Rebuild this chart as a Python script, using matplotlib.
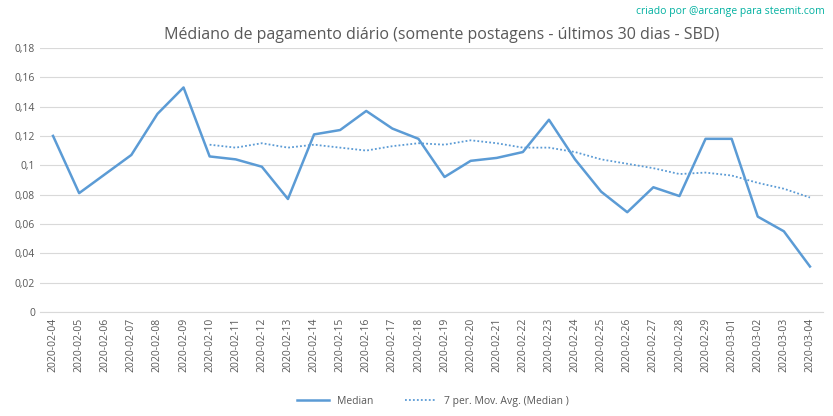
import matplotlib

matplotlib.use("Agg")
import matplotlib.pyplot as plt

dates = [
    "2020-02-04", "2020-02-05", "2020-02-06", "2020-02-07", "2020-02-08",
    "2020-02-09", "2020-02-10", "2020-02-11", "2020-02-12", "2020-02-13",
    "2020-02-14", "2020-02-15", "2020-02-16", "2020-02-17", "2020-02-18",
    "2020-02-19", "2020-02-20", "2020-02-21", "2020-02-22", "2020-02-23",
    "2020-02-24", "2020-02-25", "2020-02-26", "2020-02-27", "2020-02-28",
    "2020-02-29", "2020-03-01", "2020-03-02", "2020-03-03", "2020-03-04",
]
median = [
    0.120, 0.081, 0.094, 0.107, 0.135, 0.153, 0.106, 0.104, 0.099, 0.077,
    0.121, 0.124, 0.137, 0.125, 0.118, 0.092, 0.103, 0.105, 0.109, 0.131,
    0.104, 0.082, 0.068, 0.085, 0.079, 0.118, 0.118, 0.065, 0.055, 0.031,
]
# 7 per. moving average, starts at 2020-02-10
mov_avg = [
    0.114, 0.112, 0.115, 0.112, 0.114, 0.112, 0.110, 0.113, 0.115, 0.114,
    0.117, 0.115, 0.112, 0.112, 0.109, 0.104, 0.101, 0.098, 0.094, 0.095,
    0.093, 0.088, 0.084, 0.078,
]
y_ticks = [0, 0.02, 0.04, 0.06, 0.08, 0.1, 0.12, 0.14, 0.16, 0.18]

plt.rcParams["font.family"] = "Open Sans"
blue = "#5b9bd5"
grey = "#595959"

fig = plt.figure(figsize=(8.33, 4.16), dpi=100)
ax = fig.add_axes([0.048, 0.25, 0.94, 0.635])

x = list(range(len(dates)))
ax.plot(x, median, color=blue, lw=1.8, label="Median")
ax.plot(x[6:], mov_avg, color=blue, lw=1.3, ls=(0, (1, 1.2)),
        label="7 per. Mov. Avg. (Median )")

ax.set_xlim(-0.5, len(dates) - 0.5)
ax.set_ylim(0, 0.18)
ax.set_yticks(y_ticks)
ax.set_yticklabels([("%g" % t).replace(".", ",") for t in y_ticks])
ax.set_xticks(x)
ax.set_xticklabels(dates, rotation=90)
ax.tick_params(axis="both", labelsize=7.5, colors=grey, length=0)
ax.tick_params(axis="x", pad=4)
ax.grid(axis="y", color="#d9d9d9", lw=0.8)
ax.set_axisbelow(True)
for side in ["top", "right", "left"]:
    ax.spines[side].set_visible(False)
ax.spines["bottom"].set_color("#d9d9d9")

fig.text(0.53, 0.915, "Médiano de pagamento diário (somente postagens - últimos 30 dias - SBD)",
         ha="center", va="center", fontsize=11.5, color=grey)
fig.text(0.99, 0.985, "criado por @arcange para steemit.com", ha="right",
         va="top", fontsize=7.5, color="#00b0a0")
fig.legend(loc="lower center", ncol=2, frameon=False, fontsize=7.5,
           labelcolor=grey, bbox_to_anchor=(0.52, 0.0), handlelength=3,
           columnspacing=3)

fig.savefig("out.png", dpi=100)
